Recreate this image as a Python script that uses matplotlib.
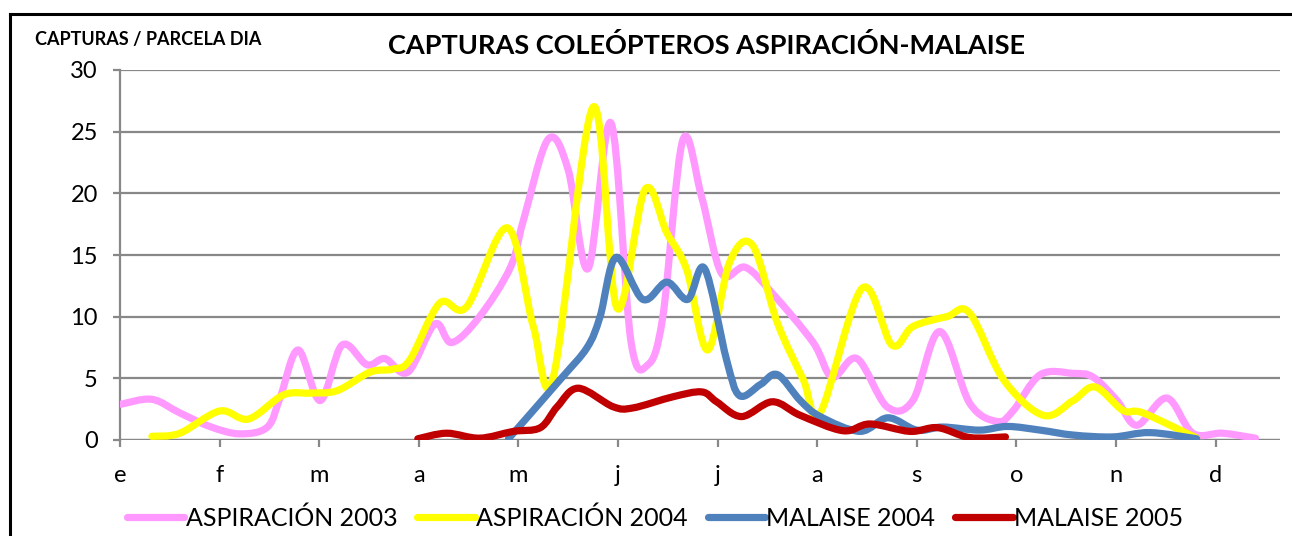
import numpy as np
import matplotlib
matplotlib.use("Agg")
import matplotlib.pyplot as plt
from matplotlib.path import Path
from matplotlib.patches import PathPatch
from matplotlib.lines import Line2D

plt.rcParams['font.family'] = ['Lato', 'DejaVu Sans']

months = ['e', 'f', 'm', 'a', 'm', 'j', 'j', 'a', 's', 'o', 'n', 'd']

asp2003_x = [0.01, 0.32, 0.60, 0.90, 1.20, 1.48, 1.61, 1.79, 2.01, 2.23, 2.48, 2.66, 2.89,
             3.16, 3.33, 3.61, 3.92, 4.05, 4.30, 4.50, 4.70, 4.93, 5.13, 5.30, 5.45, 5.65,
             5.84, 6.04, 6.28, 6.56, 6.96, 7.15, 7.40, 7.70, 7.96, 8.23, 8.53, 8.81, 8.97,
             9.24, 9.57, 9.77, 10.01, 10.21, 10.51, 10.77, 11.07, 11.40]
asp2003_y = [2.9, 3.3, 2.2, 1.1, 0.5, 1.05, 3.5, 7.3, 3.2, 7.7, 6.1, 6.6, 5.5,
             9.4, 7.9, 10.0, 14.0, 17.8, 24.4, 21.9, 13.9, 25.7, 8.0, 6.1, 10.0, 24.3,
             19.7, 13.5, 14.0, 11.8, 7.9, 5.1, 6.6, 2.7, 3.2, 8.8, 3.0, 1.5, 2.4,
             5.3, 5.4, 5.1, 3.2, 1.2, 3.4, 0.55, 0.55, 0.15]

asp2004_x = [0.32, 0.60, 1.00, 1.29, 1.64, 1.91, 2.18, 2.51, 2.74, 2.91, 3.21, 3.48, 3.89,
             4.15, 4.35, 4.75, 4.99, 5.27, 5.49, 5.69, 5.90, 6.12, 6.35, 6.60, 6.86, 7.03,
             7.45, 7.75, 7.96, 8.30, 8.53, 8.87, 9.27, 9.57, 9.79, 10.07, 10.27, 10.81]
asp2004_y = [0.3, 0.55, 2.35, 1.7, 3.65, 3.8, 4.0, 5.5, 5.75, 6.5, 11.1, 10.8, 17.2,
             9.2, 5.1, 27.0, 10.7, 20.3, 16.8, 13.8, 7.3, 14.4, 15.8, 9.5, 4.9, 2.2,
             12.3, 7.7, 9.2, 10.0, 10.3, 4.9, 2.0, 3.2, 4.3, 2.4, 2.2, 0.15]

mal2004_x = [3.90, 4.42, 4.69, 4.82, 4.98, 5.25, 5.49, 5.70, 5.87, 6.09, 6.22, 6.43, 6.60,
             6.83, 7.03, 7.43, 7.71, 8.00, 8.26, 8.63, 8.91, 9.24, 9.57, 9.97, 10.34, 10.81]
mal2004_y = [0.1, 4.9, 7.5, 10.0, 14.8, 11.4, 12.8, 11.4, 13.9, 6.5, 3.6, 4.5, 5.3,
             3.2, 1.9, 0.7, 1.8, 0.8, 1.05, 0.8, 1.1, 0.8, 0.4, 0.25, 0.6, 0.1]

mal2005_x = [2.99, 3.28, 3.61, 3.95, 4.22, 4.39, 4.60, 4.95, 5.15, 5.55, 5.84, 5.99, 6.24,
             6.55, 6.83, 7.26, 7.53, 7.93, 8.21, 8.53, 8.89]
mal2005_y = [0.1, 0.55, 0.15, 0.7, 1.0, 2.7, 4.2, 2.7, 2.6, 3.5, 3.9, 3.1, 1.9,
             3.1, 2.0, 0.75, 1.3, 0.7, 1.0, 0.2, 0.25]

series = [
    ('ASPIRACIÓN 2003', asp2003_x, asp2003_y, '#FF99FF'),
    ('ASPIRACIÓN 2004', asp2004_x, asp2004_y, '#FFFF00'),
    ('MALAISE 2004', mal2004_x, mal2004_y, '#4F81BD'),
    ('MALAISE 2005', mal2005_x, mal2005_y, '#C00000'),
]


def smooth_path(xs, ys):
    p = np.column_stack([xs, ys]).astype(float)
    n = len(p)
    verts = [p[0]]
    codes = [Path.MOVETO]
    for i in range(n - 1):
        p0 = p[i - 1] if i > 0 else p[i]
        p1 = p[i]
        p2 = p[i + 1]
        p3 = p[i + 2] if i + 2 < n else p[i + 1]
        c1 = p1 + (p2 - p0) / 6.0
        c2 = p2 - (p3 - p1) / 6.0
        verts += [c1, c2, p2]
        codes += [Path.CURVE4] * 3
    return Path(verts, codes)


W, H = 1292, 536
fig = plt.figure(figsize=(W / 100, H / 100), dpi=100)
ax = fig.add_axes([120 / W, 1 - 440 / H, (1280 - 120) / W, (440 - 70) / H])

for label, xs, ys, col in series:
    patch = PathPatch(smooth_path(xs, ys), facecolor='none', edgecolor=col,
                      lw=5.2, capstyle='round', joinstyle='round', zorder=3)
    ax.add_patch(patch)
    ax.plot([], [], color=col, lw=5.2, solid_capstyle='round', label=label)

ax.set_xlim(0, (1280 - 120) / 99.6)
ax.set_ylim(0, 30)
ax.set_xticks(range(len(months)))
ax.set_xticklabels(months)
ax.set_yticks(range(0, 31, 5))
ax.grid(axis='y', color='#888888', lw=1.6, zorder=1)
for s in ['top', 'right', 'bottom']:
    ax.spines[s].set_visible(False)
ax.spines['left'].set_color('#888888')
ax.spines['left'].set_linewidth(1.6)
ax.axhline(0, color='#888888', lw=1.6, zorder=2)
ax.tick_params(axis='both', colors='#888888', width=1.6, length=5,
               labelcolor='black', labelsize=17)
ax.tick_params(axis='x', pad=13)
ax.tick_params(axis='y', pad=11)

fig.text(707 / W, 1 - 45 / H, 'CAPTURAS COLEÓPTEROS ASPIRACIÓN-MALAISE',
         ha='center', va='center', fontsize=19.5, fontweight='bold')
fig.text(35 / W, 1 - 40 / H, 'CAPTURAS / PARCELA DIA', ha='left', va='center',
         fontsize=13, fontweight='bold')

fig.legend(loc='center', bbox_to_anchor=(655 / W, 1 - 518 / H), ncol=4,
           frameon=False, fontsize=18, handlelength=2.3, handletextpad=0.05,
           columnspacing=0.8, borderaxespad=0)

fig.add_artist(Line2D([10 / W, 1], [1 - 14 / H, 1 - 14 / H], color='black', lw=2.2,
                      transform=fig.transFigure))
fig.add_artist(Line2D([10 / W, 10 / W], [1 - 14 / H, 0], color='black', lw=2.2,
                      transform=fig.transFigure))

fig.savefig('out.png', dpi=100)
